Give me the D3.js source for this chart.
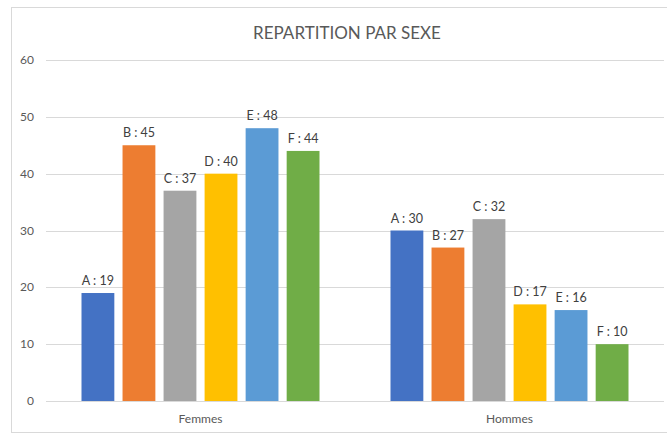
<!DOCTYPE html>
<html>
<head>
<meta charset="utf-8">
<script src="https://cdn.jsdelivr.net/npm/d3@7"></script>
<style>
  body { margin: 0; background: #fff; }
  svg { display: block; font-family: Lato, "Open Sans", sans-serif; }
</style>
</head>
<body>
<div class="chart"></div>
<script>
var groups = ["Femmes", "Hommes"];
var series = ["A", "B", "C", "D", "E", "F"];
var femmes = [19, 45, 37, 40, 48, 44];
var hommes = [30, 27, 32, 17, 16, 10];
var colors = ["#4472C4", "#ED7D31", "#A5A5A5", "#FFC000", "#5B9BD5", "#70AD47"];
var yTicks = [0, 10, 20, 30, 40, 50, 60];

var width = 667, height = 434;
var values = { Femmes: femmes, Hommes: hommes };

var svg = d3.select(".chart").append("svg")
  .attr("width", width)
  .attr("height", height);

// chart frame
svg.append("rect")
  .attr("x", 11.5).attr("y", 7.5)
  .attr("width", 700).attr("height", 425)
  .attr("fill", "#fff")
  .attr("stroke", "#d9d9d9");

svg.append("text")
  .attr("x", 347).attr("y", 39)
  .attr("text-anchor", "middle")
  .attr("fill", "#595959")
  .style("font-size", "17px")
  .text("REPARTITION PAR SEXE");

var y = d3.scaleLinear().domain([0, 60]).range([401, 60]);
var x0 = d3.scaleBand().domain(groups).range([46, 664]);
var x1 = d3.scaleBand().domain(series).range([35.5, 273.5]).paddingInner(0.2);

// gridlines
svg.selectAll(".grid")
  .data(yTicks)
  .enter().append("line")
  .attr("x1", 46).attr("x2", 664)
  .attr("y1", function(d) { return Math.round(y(d)) + 0.5; })
  .attr("y2", function(d) { return Math.round(y(d)) + 0.5; })
  .attr("stroke", "#d9d9d9");

svg.selectAll(".ytick")
  .data(yTicks)
  .enter().append("text")
  .attr("x", 34).attr("y", function(d) { return y(d) + 4; })
  .attr("text-anchor", "end")
  .attr("fill", "#595959")
  .style("font-size", "12px")
  .text(function(d) { return d; });

var g = svg.selectAll(".group")
  .data(groups)
  .enter().append("g")
  .attr("transform", function(d) { return "translate(" + x0(d) + ",0)"; });

g.selectAll("rect")
  .data(function(gr) { return values[gr].map(function(v, i) { return { s: series[i], v: v, c: colors[i] }; }); })
  .enter().append("rect")
  .attr("x", function(d) { return x1(d.s); })
  .attr("width", x1.bandwidth())
  .attr("y", function(d) { return y(d.v); })
  .attr("height", function(d) { return y(0) - y(d.v); })
  .attr("fill", function(d) { return d.c; });

g.selectAll(".lbl")
  .data(function(gr) { return values[gr].map(function(v, i) { return { s: series[i], v: v }; }); })
  .enter().append("text")
  .attr("x", function(d) { return x1(d.s) + x1.bandwidth() / 2; })
  .attr("y", function(d) { return y(d.v) - 8; })
  .attr("text-anchor", "middle")
  .attr("fill", "#404040")
  .style("font-size", "12.5px")
  .text(function(d) { return d.s + " : " + d.v; });

svg.selectAll(".xlab")
  .data(groups)
  .enter().append("text")
  .attr("x", function(d) { return x0(d) + x0.bandwidth() / 2; })
  .attr("y", 423)
  .attr("text-anchor", "middle")
  .attr("fill", "#595959")
  .style("font-size", "12px")
  .text(function(d) { return d; });
</script>
</body>
</html>
